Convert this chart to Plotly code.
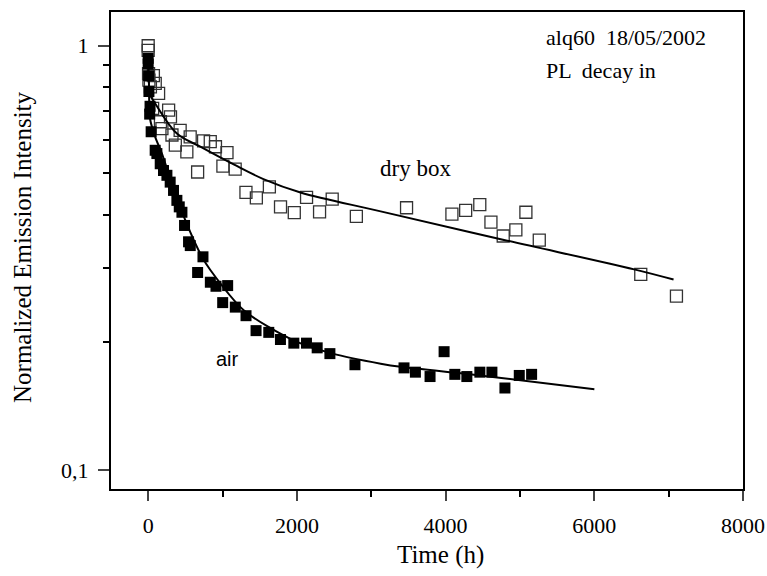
import plotly.graph_objects as go

# Dry box data (open squares)
dry_t = [0, 0, 5, 10, 30, 70, 95, 140, 165, 60, 275, 300, 185, 320, 430, 565, 365, 520,
         745, 835, 905, 1060, 665, 1005, 1170, 1315, 1455, 1630, 1780, 1965, 2130, 2305,
         2475, 2800, 3475, 4085, 4270, 4460, 4610, 4775, 4945, 5080, 5260, 6625, 7105]
dry_i = [1.0, 0.975, 0.86, 0.83, 0.80, 0.85, 0.815, 0.772, 0.662, 0.712, 0.705, 0.68, 0.638,
         0.616, 0.632, 0.61, 0.583, 0.562, 0.597, 0.594, 0.578, 0.560, 0.504, 0.52, 0.512,
         0.451, 0.438, 0.465, 0.417, 0.404, 0.439, 0.406, 0.435, 0.396, 0.415, 0.401, 0.409,
         0.422, 0.384, 0.356, 0.368, 0.405, 0.348, 0.289, 0.257]

# Air data (filled squares)
air_t = [0, 0, 5, 10, 20, 25, 40, 94, 117, 162, 206, 252, 296, 341, 386, 418, 454, 489, 543,
         566, 665, 737, 836, 912, 1002, 1069, 1172, 1316, 1451, 1622, 1779, 1959, 2129, 2273,
         2444, 2781, 3441, 3594, 3791, 3980, 4124, 4286, 4461, 4623, 4798, 4991, 5157]
air_i = [0.934, 0.905, 0.85, 0.78, 0.69, 0.72, 0.627, 0.567, 0.557, 0.527, 0.508, 0.495, 0.477,
         0.456, 0.432, 0.417, 0.405, 0.377, 0.345, 0.338, 0.292, 0.318, 0.277, 0.271, 0.248,
         0.272, 0.242, 0.231, 0.213, 0.211, 0.203, 0.199, 0.199, 0.194, 0.188, 0.177, 0.174,
         0.170, 0.166, 0.190, 0.168, 0.166, 0.170, 0.170, 0.156, 0.167, 0.168]

# Fit curves
dry_fit_t = [15, 94, 386, 701, 1150, 1550, 2049, 3127, 4771, 6536, 7066]
dry_fit_i = [0.77, 0.731, 0.621, 0.578, 0.525, 0.485, 0.451, 0.407, 0.349, 0.297, 0.281]

air_fit_t = [0, 10, 27, 94, 185, 274, 499, 723, 836, 1285, 1955, 2481, 3127, 3396, 4461, 6001]
air_fit_i = [0.95, 0.82, 0.67, 0.61, 0.557, 0.50, 0.388, 0.318, 0.296, 0.238, 0.202, 0.188,
             0.178, 0.175, 0.167, 0.155]

x_ticks = [0, 2000, 4000, 6000, 8000]
x_minor = [1000, 3000, 5000, 7000]
y_ticks = [0.1, 1]
y_ticktext = ["0,1", "1"]
y_minor = [0.2, 0.3, 0.4, 0.5, 0.6, 0.7, 0.8, 0.9]

SERIF = "Liberation Serif"
L, R, T, B = 111, 743, 12, 489
PW, PH = R - L, B - T

fig = go.Figure()
fig.add_trace(go.Scatter(x=dry_t, y=dry_i, mode="markers",
                         marker=dict(symbol="square-open", size=12, color="#333333",
                                     line=dict(width=1.3, color="#333333")),
                         showlegend=False))
fig.add_trace(go.Scatter(x=air_t, y=air_i, mode="markers",
                         marker=dict(symbol="square", size=11, color="black"),
                         showlegend=False))
fig.add_trace(go.Scatter(x=dry_fit_t, y=dry_fit_i, mode="lines",
                         line=dict(color="black", width=2, shape="spline", smoothing=1.0),
                         showlegend=False))
fig.add_trace(go.Scatter(x=air_fit_t, y=air_fit_i, mode="lines",
                         line=dict(color="black", width=2, shape="spline", smoothing=0.8),
                         showlegend=False))

fig.update_layout(
    width=767, height=576,
    margin=dict(l=L, r=767 - R, t=T, b=576 - B, autoexpand=False),
    paper_bgcolor="white", plot_bgcolor="white",
    font=dict(family=SERIF, size=22, color="black"),
    xaxis=dict(range=[-500, 8000], tickvals=x_ticks, ticks="outside", ticklen=10,
               tickwidth=2, showline=True, linewidth=2, linecolor="black", mirror=True,
               showgrid=False, zeroline=False, ticklabelstandoff=6, automargin=False,
               tickfont=dict(family=SERIF, size=22),
               minor=dict(tickvals=x_minor, ticks="outside", ticklen=6, tickwidth=2,
                          tickcolor="black", showgrid=False)),
    yaxis=dict(type="log", range=[-1.045, 0.0796], tickvals=y_ticks, ticktext=y_ticktext,
               ticks="outside", ticklen=11, tickwidth=2, showline=True, linewidth=2,
               linecolor="black", mirror=True, showgrid=False, zeroline=False,
               ticklabelstandoff=5, automargin=False, tickfont=dict(family=SERIF, size=22),
               minor=dict(tickvals=y_minor, ticks="outside", ticklen=6, tickwidth=2,
                          tickcolor="black", showgrid=False)),
)

fig.add_annotation(text="Time (h)", xref="paper", yref="paper", x=(440 - L) / PW,
                   y=-(555 - B) / PH, xanchor="center", yanchor="middle", showarrow=False,
                   font=dict(family=SERIF, size=25))
fig.add_annotation(text="Normalized Emission Intensity", xref="paper", yref="paper",
                   x=(22 - L) / PW, y=(B - 247) / PH, xanchor="center", yanchor="middle",
                   textangle=-90, showarrow=False, font=dict(family=SERIF, size=25))
fig.add_annotation(text="alq60  18/05/2002", xref="paper", yref="paper",
                   x=(544 - L) / PW, y=(B - 37) / PH, xanchor="left", yanchor="middle",
                   showarrow=False, font=dict(family=SERIF, size=22))
fig.add_annotation(text="PL  decay in", xref="paper", yref="paper",
                   x=(544 - L) / PW, y=(B - 70) / PH, xanchor="left", yanchor="middle",
                   showarrow=False, font=dict(family=SERIF, size=22))
fig.add_annotation(text="dry box", xref="paper", yref="paper",
                   x=(415 - L) / PW, y=(B - 169) / PH, xanchor="center", yanchor="middle",
                   showarrow=False, font=dict(family=SERIF, size=23))
fig.add_annotation(text="air", xref="paper", yref="paper",
                   x=(227 - L) / PW, y=(B - 359) / PH, xanchor="center", yanchor="middle",
                   showarrow=False, font=dict(family="Liberation Sans", size=20))

fig.write_html("out.html")
